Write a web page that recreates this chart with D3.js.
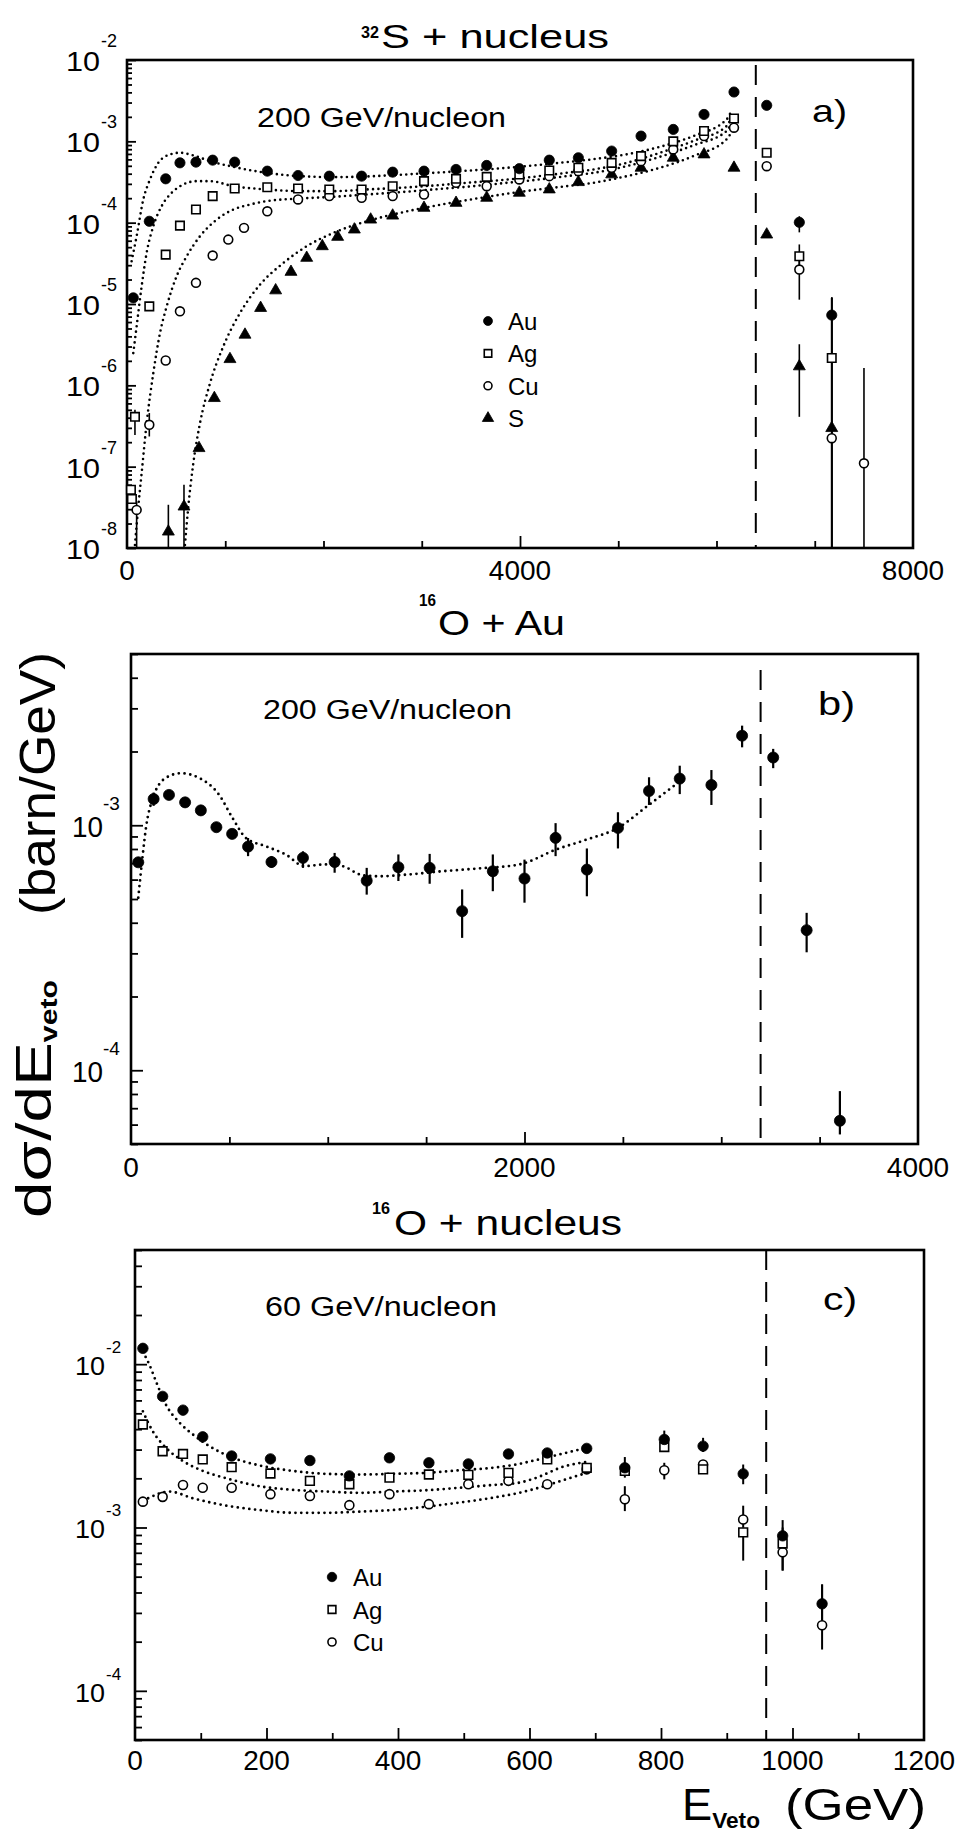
<!DOCTYPE html>
<html><head><meta charset="utf-8">
<script src="https://d3js.org/d3.v7.min.js"></script>
<style>
html,body{margin:0;padding:0;background:#fff;}
svg{display:block;}
text{font-family:"Liberation Sans",Arial,Helvetica,sans-serif;fill:#000;}
</style></head>
<body>
<svg id="fig" width="963" height="1836" viewBox="0 0 963 1836"></svg>
<script>
// ================= DATA =================
// ---- Panel a) 32S + nucleus, 200 GeV/nucleon ----
const aXTicks = [0, 4000, 8000];
const aBeamE = 6400;
const aAuE = [64,227,394,539,702,872,1096,1428,1741,2059,2388,2704,3023,3349,3661,3993,4298,4594,4933,5232,5560,5873,6178,6511,6843,7173];
const aAuV = [1.19e-5,1.04e-4,3.46e-4,5.44e-4,5.55e-4,5.87e-4,5.55e-4,4.30e-4,3.80e-4,3.73e-4,3.73e-4,4.18e-4,4.30e-4,4.51e-4,5.05e-4,4.61e-4,5.87e-4,6.28e-4,7.59e-4,1.16e-3,1.40e-3,2.14e-3,4.04e-3,2.77e-3,1.01e-4,7.3e-6];
const aAgE = [40,50,81,227,394,539,702,872,1096,1428,1741,2059,2388,2704,3023,3349,3661,3993,4298,4594,4933,5232,5560,5873,6178,6511,6843,7173];
const aAgV = [5.2e-8,4.0e-8,4.1e-7,9.35e-6,4.05e-5,9.2e-5,1.45e-4,2.12e-4,2.63e-4,2.73e-4,2.63e-4,2.56e-4,2.56e-4,2.81e-4,3.24e-4,3.46e-4,3.66e-4,3.91e-4,4.38e-4,4.73e-4,5.44e-4,6.58e-4,1.0e-3,1.34e-3,1.91e-3,7.24e-4,3.87e-5,2.17e-6];
const aCuE = [98,227,394,539,702,872,1031,1191,1428,1741,2059,2388,2704,3023,3349,3661,3993,4298,4594,4933,5232,5560,5873,6178,6511,6843,7173,7501];
const aCuV = [2.94e-8,3.27e-7,2.02e-6,8.13e-6,1.82e-5,3.94e-5,6.19e-5,8.63e-5,1.38e-4,1.93e-4,2.12e-4,2.02e-4,2.12e-4,2.22e-4,3.09e-4,2.81e-4,3.40e-4,3.73e-4,4.30e-4,4.73e-4,5.71e-4,7.96e-4,1.16e-3,1.47e-3,4.95e-4,2.65e-5,2.24e-7,1.1e-7];
const aSE = [421,580,733,889,1048,1201,1360,1513,1669,1829,1988,2144,2314,2480,2704,3023,3349,3661,3993,4298,4594,4933,5232,5560,5873,6178,6511,6843,7173];
const aSV = [1.59e-8,3.23e-8,1.69e-7,6.97e-7,2.1e-6,4.19e-6,8.93e-6,1.47e-5,2.48e-5,3.69e-5,5.13e-5,6.68e-5,8.23e-5,1.09e-4,1.22e-4,1.52e-4,1.75e-4,2.02e-4,2.33e-4,2.56e-4,3.15e-4,3.92e-4,4.73e-4,6.28e-4,6.9e-4,4.73e-4,7.14e-5,1.71e-6,2.98e-7];
// error bars [E, low, high]
const aAuErr = [[6843,7.6e-5,1.2e-4],[7173,1e-9,1.2e-5]];
const aAgErr = [[81,2.45e-7,5.0e-7],[6843,2.6e-5,5.4e-5],[7173,1e-9,1.2e-5]];
const aCuErr = [[98,1e-9,3.7e-8],[227,2.35e-7,4.56e-7],[6843,1.13e-5,3.6e-5],[7173,1e-9,1.2e-5],[7501,1e-9,1.63e-6]];
const aSErr = [[421,1e-9,3.4e-8],[580,1e-9,6e-8],[6843,4.1e-7,3.2e-6],[7173,1e-9,1.2e-5]];
// model curves (dotted)
const aAuFitE = [47,98,166,234,319,437,539,675,845,1082,1422,1761,2100,2440,2779,3118,3456,3795,4134,4473,4746,5086,5425,5764,6103,6150];
const aAuFitV = [3.36e-5,6.81e-5,1.93e-4,3.40e-4,5.45e-4,6.90e-4,7.24e-4,6.71e-4,5.71e-4,4.86e-4,4.10e-4,3.73e-4,3.63e-4,3.70e-4,3.88e-4,4.10e-4,4.35e-4,4.65e-4,5.05e-4,5.55e-4,6.03e-4,6.92e-4,8.57e-4,1.16e-3,1.86e-3,2.34e-3];
const aAgFitE = [64,98,149,200,268,353,455,573,709,845,1082,1422,1761,2100,2440,2779,3118,3456,3795,4134,4473,4746,5086,5425,5764,6103,6150];
const aAgFitV = [2.49e-6,5.31e-6,1.65e-5,4.26e-5,9.06e-5,1.60e-4,2.33e-4,2.95e-4,3.24e-4,3.24e-4,2.81e-4,2.56e-4,2.44e-4,2.44e-4,2.56e-4,2.68e-4,2.86e-4,3.09e-4,3.33e-4,3.66e-4,4.10e-4,4.51e-4,5.44e-4,7.24e-4,1.01e-3,1.54e-3,1.95e-3];
const aCuFitE = [81,115,149,200,268,336,404,505,607,743,913,1082,1252,1422,1761,2100,2440,2779,3118,3456,3795,4134,4473,4746,5086,5425,5764,6103,6150];
const aCuFitV = [1.09e-8,3.23e-8,8.32e-8,3.43e-7,1.42e-6,4.40e-6,9.35e-6,2.19e-5,3.85e-5,6.81e-5,1.09e-4,1.45e-4,1.67e-4,1.84e-4,1.98e-4,2.08e-4,2.22e-4,2.37e-4,2.56e-4,2.76e-4,3.03e-4,3.33e-4,3.73e-4,4.10e-4,4.95e-4,6.46e-4,8.91e-4,1.34e-3,1.69e-3];
const aSFitE = [590,624,675,743,845,980,1150,1354,1591,1829,2100,2440,2779,3118,3456,3795,4134,4473,4746,5086,5425,5764,6103,6150];
const aSFitV = [1.09e-8,3.23e-8,1.10e-7,3.43e-7,1.06e-6,3.01e-6,7.74e-6,1.73e-5,3.19e-5,5.13e-5,7.48e-5,1.04e-4,1.32e-4,1.60e-4,1.89e-4,2.20e-4,2.51e-4,2.81e-4,3.09e-4,3.73e-4,4.73e-4,6.58e-4,1.06e-3,1.28e-3];
const aLegend = ["Au", "Ag", "Cu", "S"];

// ---- Panel b) 16O + Au, 200 GeV/nucleon ----
const bXTicks = [0, 2000, 4000];
const bBeamE = 3200;
const bE = [37,115,193,275,355,434,514,595,714,874,1035,1198,1359,1518,1683,1839,2000,2158,2317,2475,2633,2789,2950,3106,3264,3434,3603];
const bV = [7.06e-4,1.28e-3,1.33e-3,1.24e-3,1.15e-3,9.82e-4,9.22e-4,8.18e-4,7.08e-4,7.36e-4,7.08e-4,5.94e-4,6.74e-4,6.70e-4,4.46e-4,6.49e-4,6.06e-4,8.88e-4,6.59e-4,9.75e-4,1.38e-3,1.55e-3,1.46e-3,2.32e-3,1.89e-3,3.73e-4,6.22e-5];
const bLo = [null,1.20e-3,null,null,null,null,null,7.48e-4,6.70e-4,6.70e-4,6.40e-4,5.21e-4,5.92e-4,5.77e-4,3.47e-4,5.38e-4,4.83e-4,7.48e-4,5.13e-4,8.04e-4,1.21e-3,1.34e-3,1.21e-3,2.08e-3,1.71e-3,3.03e-4,5.47e-5];
const bHi = [null,1.36e-3,null,null,null,null,null,8.87e-4,7.48e-4,7.83e-4,7.71e-4,6.70e-4,7.60e-4,7.64e-4,5.47e-4,7.60e-4,7.24e-4,1.02e-3,8.04e-4,1.13e-3,1.57e-3,1.75e-3,1.68e-3,2.55e-3,2.05e-3,4.39e-4,8.22e-5];
const bFitE = [37,58,78,108,177,253,346,448,516,584,686,787,880,991,1075,1177,1262,1415,1584,1754,1975,2161,2314,2475,2620,2789];
const bFitV = [5.06e-4,7.36e-4,1.0e-3,1.27e-3,1.56e-3,1.63e-3,1.56e-3,1.33e-3,1.07e-3,8.87e-4,8.20e-4,7.59e-4,6.81e-4,6.92e-4,6.81e-4,6.25e-4,6.19e-4,6.30e-4,6.49e-4,6.65e-4,6.92e-4,7.96e-4,8.73e-4,9.75e-4,1.19e-3,1.51e-3];

// ---- Panel c) 16O + nucleus, 60 GeV/nucleon ----
const cXTicks = [0, 200, 400, 600, 800, 1000, 1200];
const cBeamE = 960;
const cE = [12,42,73,103,147,206,266,326,387,447,507,568,627,687,745,805,864,925,985,1045];
const cAu = [1.25e-2,6.35e-3,5.23e-3,3.59e-3,2.74e-3,2.63e-3,2.57e-3,2.07e-3,2.67e-3,2.49e-3,2.45e-3,2.82e-3,2.86e-3,3.05e-3,2.32e-3,3.46e-3,3.15e-3,2.13e-3,8.89e-4,3.41e-4];
const cAg = [4.27e-3,2.93e-3,2.82e-3,2.61e-3,2.34e-3,2.14e-3,1.93e-3,1.84e-3,2.02e-3,2.11e-3,2.10e-3,2.16e-3,2.61e-3,2.32e-3,2.22e-3,3.11e-3,2.27e-3,9.33e-4,7.98e-4,null];
const cCu = [1.44e-3,1.54e-3,1.82e-3,1.75e-3,1.75e-3,1.60e-3,1.56e-3,1.37e-3,1.60e-3,1.39e-3,1.84e-3,1.93e-3,1.84e-3,2.27e-3,1.49e-3,2.24e-3,2.43e-3,1.12e-3,7.05e-4,2.52e-4];
const cAuErr = [[745,2.02e-3,2.70e-3],[805,3.2e-3,3.92e-3],[864,2.9e-3,3.54e-3],[925,1.84e-3,2.43e-3],[985,7.5e-4,1.11e-3],[1045,2.5e-4,4.48e-4]];
const cAgErr = [[925,6.27e-4,1.0e-3],[985,5.45e-4,9.5e-4]];
const cCuErr = [[745,1.26e-3,1.79e-3],[805,1.97e-3,2.49e-3],[925,1.0e-3,1.36e-3],[985,5.45e-4,1.0e-3],[1045,1.79e-4,4.48e-4]];
const cAuFitE = [12,22,32,47,68,88,113,149,189,240,291,341,392,443,493,544,584,605,655,687];
const cAuFitV = [1.19e-2,9.9e-3,7.83e-3,5.65e-3,4.37e-3,3.71e-3,3.15e-3,2.67e-3,2.40e-3,2.22e-3,2.13e-3,2.11e-3,2.13e-3,2.16e-3,2.24e-3,2.32e-3,2.45e-3,2.56e-3,2.86e-3,3.08e-3];
const cAgFitE = [12,27,47,73,103,139,189,240,291,341,392,443,493,544,584,605,655,687];
const cAgFitV = [5.14e-3,3.88e-3,3.08e-3,2.55e-3,2.22e-3,2.00e-3,1.79e-3,1.70e-3,1.66e-3,1.63e-3,1.66e-3,1.69e-3,1.75e-3,1.82e-3,1.88e-3,1.98e-3,2.38e-3,2.52e-3];
const cCuFitE = [20,52,88,139,189,240,291,341,392,443,493,544,584,605,655,687];
const cCuFitV = [1.51e-3,1.66e-3,1.51e-3,1.36e-3,1.28e-3,1.23e-3,1.23e-3,1.25e-3,1.28e-3,1.34e-3,1.42e-3,1.52e-3,1.63e-3,1.71e-3,1.97e-3,2.16e-3];
const cLegend = ["Au", "Ag", "Cu"];

// ================= DRAWING =================
const svg = d3.select("#fig");
svg.append("rect").attr("width", 963).attr("height", 1836).attr("fill", "#fff");

function addText(parent, x, y, str, size, o = {}) {
  const t = parent.append("text").attr("x", x).attr("y", y).attr("font-size", size).text(str);
  if (o.anchor) t.attr("text-anchor", o.anchor);
  if (o.len) t.attr("textLength", o.len).attr("lengthAdjust", "spacingAndGlyphs");
  if (o.weight) t.attr("font-weight", o.weight);
  return t;
}

function decadeTicks(dom) {
  const lo = Math.floor(Math.log10(dom[0]) + 1e-9), hi = Math.ceil(Math.log10(dom[1]) - 1e-9);
  const major = [], minor = [];
  for (let k = lo; k <= hi; k++) {
    for (let m = 1; m <= 9; m++) {
      const v = m * Math.pow(10, k);
      if (v < dom[0] * 0.999 || v > dom[1] * 1.001) continue;
      (m === 1 ? major : minor).push(v);
    }
  }
  return { major, minor };
}

function panel(p) {
  const x = d3.scaleLinear().domain(p.xDomain).range([p.left, p.right]);
  const y = d3.scaleLog().domain(p.yDomain).range([p.bottom, p.top]).clamp(true);
  const g = svg.append("g");
  const yt = decadeTicks(p.yDomain);
  const styleTicks = s => { s.select(".domain").remove(); s.selectAll("line").attr("stroke", "#000").attr("stroke-width", 1.8); };
  const axL = (vals, len) => g.append("g").attr("transform", `translate(${p.left},0)`)
    .call(d3.axisLeft(y).tickValues(vals).tickSizeInner(-len).tickSizeOuter(0).tickFormat(""))
    .call(styleTicks);
  axL(yt.minor, p.yMinorLen); axL(yt.major, p.yMajorLen);
  const xMaj = d3.range(p.xDomain[0], p.xDomain[1] + 1e-6, p.xMajorStep).filter(v => v > p.xDomain[0] && v < p.xDomain[1]);
  const xMin = d3.range(p.xDomain[0], p.xDomain[1] + 1e-6, p.xMinorStep).filter(v => v > p.xDomain[0] && v < p.xDomain[1] && !xMaj.includes(v));
  const axB = (vals, len) => g.append("g").attr("transform", `translate(0,${p.bottom})`)
    .call(d3.axisBottom(x).tickValues(vals).tickSizeInner(-len).tickSizeOuter(0).tickFormat(""))
    .call(styleTicks);
  axB(xMin, 7); axB(xMaj, 12);
  g.append("rect").attr("x", p.left).attr("y", p.top).attr("width", p.right - p.left).attr("height", p.bottom - p.top)
    .attr("fill", "none").attr("stroke", "#000").attr("stroke-width", 2.6);
  p.xLabels.forEach(v => addText(g, x(v), p.bottom + p.xLabelDy, String(v), p.xLabelSize, { anchor: "middle" }));
  yt.major.forEach(v => {
    const k = Math.round(Math.log10(v));
    addText(g, p.left - p.yNumGap, y(v) + p.yNumDy, "10", p.yNumSize, { anchor: "end", len: p.yNumLen });
    addText(g, p.left - p.yNumGap + p.ySupDx, y(v) + p.ySupDy, "-" + Math.abs(k), p.ySupSize);
  });
  return { x, y, g, p };
}

function drawFit(P, E, V, w, gap) {
  const line = d3.line().x(d => P.x(d[0])).y(d => P.y(d[1])).curve(d3.curveMonotoneX);
  P.g.append("path").datum(E.map((e, i) => [e, V[i]])).attr("d", line)
    .attr("fill", "none").attr("stroke", "#000").attr("stroke-width", w)
    .attr("stroke-linecap", "round").attr("stroke-dasharray", `0 ${gap}`);
}
function drawBeam(P, E, y1) {
  P.g.append("line").attr("x1", P.x(E)).attr("x2", P.x(E)).attr("y1", y1).attr("y2", P.p.bottom)
    .attr("stroke", "#000").attr("stroke-width", 2).attr("stroke-dasharray", "20 12");
}
function drawErr(P, rows, w) {
  P.g.append("g").selectAll("line").data(rows).join("line")
    .attr("x1", d => P.x(d[0])).attr("x2", d => P.x(d[0]))
    .attr("y1", d => P.y(d[1])).attr("y2", d => P.y(d[2]))
    .attr("stroke", "#000").attr("stroke-width", w);
}
const SYM = { Au: [d3.symbolCircle, true], Ag: [d3.symbolSquare, false], Cu: [d3.symbolCircle, false], S: [d3.symbolTriangle, true] };
function drawPts(P, E, V, name, size) {
  const [type, filled] = SYM[name];
  const sym = d3.symbol().type(type).size(size);
  P.g.append("g").selectAll("path").data(E.map((e, i) => [e, V[i]]).filter(d => d[1] != null)).join("path")
    .attr("transform", d => `translate(${P.x(d[0])},${P.y(d[1])})`).attr("d", sym)
    .attr("fill", filled ? "#000" : "#fff").attr("stroke", "#000").attr("stroke-width", filled ? 0.8 : 1.6);
}
function drawLegend(P, names, mx, my0, step, tx, sizes) {
  names.forEach((n, i) => {
    const [type, filled] = SYM[n];
    P.g.append("path").attr("transform", `translate(${mx},${my0 + i * step})`)
      .attr("d", d3.symbol().type(type).size(sizes[n]))
      .attr("fill", filled ? "#000" : "#fff").attr("stroke", "#000").attr("stroke-width", filled ? 0.8 : 1.6);
    addText(P.g, tx, my0 + i * step + 9, n, 24);
  });
}
function title(parent, sx, sBase, sup, supLen, mx, mBase, main, size, len) {
  addText(parent, sx, sBase, sup, 17, { len: supLen, weight: "bold" });
  addText(parent, mx, mBase, main, size, { len: len });
}

// ---------- Panel a ----------
const A = panel({ left: 127, right: 913, top: 60, bottom: 548, xDomain: [0, 8000], yDomain: [1e-8, 1e-2],
  xMajorStep: 4000, xMinorStep: 1000, yMajorLen: 9, yMinorLen: 5,
  xLabels: aXTicks, xLabelDy: 32, xLabelSize: 28,
  yNumGap: 27, yNumDy: 11, yNumSize: 28, yNumLen: 34, ySupDx: 1, ySupDy: -13, ySupSize: 18 });
drawFit(A, aAuFitE, aAuFitV, 2.6, 5.4);
drawFit(A, aAgFitE, aAgFitV, 2.6, 5.4);
drawFit(A, aCuFitE, aCuFitV, 2.6, 5.4);
drawFit(A, aSFitE, aSFitV, 2.6, 5.4);
drawBeam(A, aBeamE, 65);
drawErr(A, aAuErr, 1.6); drawErr(A, aAgErr, 1.6); drawErr(A, aCuErr, 1.6); drawErr(A, aSErr, 1.6);
drawPts(A, aSE, aSV, "S", 62);
drawPts(A, aCuE, aCuV, "Cu", 62);
drawPts(A, aAgE, aAgV, "Ag", 72);
drawPts(A, aAuE, aAuV, "Au", 82);
drawLegend(A, aLegend, 488, 321, 32.4, 508, { Au: 62, Ag: 56, Cu: 50, S: 56 });
title(A.g, 361, 38, "32", 18, 381, 48, "S + nucleus", 33, 228);
addText(A.g, 257, 127, "200 GeV/nucleon", 27, { len: 249 });
addText(A.g, 812, 122, "a)", 32, { len: 35 });

// ---------- Panel b ----------
const B = panel({ left: 131, right: 918, top: 654, bottom: 1144, xDomain: [0, 4000], yDomain: [5e-5, 5e-3],
  xMajorStep: 2000, xMinorStep: 500, yMajorLen: 12, yMinorLen: 7,
  xLabels: bXTicks, xLabelDy: 33, xLabelSize: 28,
  yNumGap: 28, yNumDy: 12, yNumSize: 29, yNumLen: 31, ySupDx: 0, ySupDy: -15, ySupSize: 19 });
drawFit(B, bFitE, bFitV, 2.8, 5.8);
drawBeam(B, bBeamE, 670);
drawErr(B, bE.map((e, i) => [e, bLo[i], bHi[i]]).filter(d => d[1] != null), 2.2);
drawPts(B, bE, bV, "Au", 96);
title(B.g, 419, 606, "16", 17, 438, 635, "O + Au", 35, 127);
addText(B.g, 263, 719, "200 GeV/nucleon", 27, { len: 249 });
addText(B.g, 818, 715, "b)", 34, { len: 37 });

// ---------- Panel c ----------
const C = panel({ left: 135, right: 924, top: 1250, bottom: 1740, xDomain: [0, 1200], yDomain: [5e-5, 5e-2],
  xMajorStep: 200, xMinorStep: 100, yMajorLen: 12, yMinorLen: 7,
  xLabels: cXTicks, xLabelDy: 30, xLabelSize: 28,
  yNumGap: 30, yNumDy: 11, yNumSize: 25, yNumLen: 30, ySupDx: 1, ySupDy: -11, ySupSize: 17 });
drawFit(C, cAuFitE, cAuFitV, 2.8, 5.8);
drawFit(C, cAgFitE, cAgFitV, 2.8, 5.8);
drawFit(C, cCuFitE, cCuFitV, 2.8, 5.8);
drawBeam(C, cBeamE, 1250);
drawErr(C, cAuErr, 2); drawErr(C, cAgErr, 2); drawErr(C, cCuErr, 2);
drawPts(C, cE, cCu, "Cu", 64);
drawPts(C, cE, cAg, "Ag", 76);
drawPts(C, cE, cAu, "Au", 86);
drawLegend(C, cLegend, 332, 1577, 32.5, 353, { Au: 70, Ag: 60, Cu: 52 });
title(C.g, 372, 1214, "16", 18, 394, 1235, "O + nucleus", 35, 228);
addText(C.g, 265, 1316, "60 GeV/nucleon", 27, { len: 232 });
addText(C.g, 823, 1310, "c)", 32, { len: 34 });

// ---------- shared axis titles ----------
{
  const t = svg.append("text").attr("x", 682).attr("y", 1820).attr("font-size", 44)
    .attr("textLength", 78).attr("lengthAdjust", "spacingAndGlyphs");
  t.append("tspan").text("E");
  t.append("tspan").attr("font-size", 22).attr("font-weight", "bold").attr("dy", 8).text("Veto");
  addText(svg, 785, 1820, "(GeV)", 44, { len: 141 });
}
{
  const t1 = svg.append("text").attr("transform", "translate(51,1218) rotate(-90)").attr("font-size", 50)
    .attr("textLength", 238).attr("lengthAdjust", "spacingAndGlyphs");
  t1.append("tspan").text("d\u03c3/dE");
  t1.append("tspan").attr("font-size", 23).attr("font-weight", "bold").attr("dy", 6).text("veto");
  const t2 = svg.append("text").attr("transform", "translate(55,915) rotate(-90)").attr("font-size", 50)
    .attr("textLength", 263).attr("lengthAdjust", "spacingAndGlyphs");
  t2.append("tspan").text("(barn/GeV)");
}
</script>
</body></html>
